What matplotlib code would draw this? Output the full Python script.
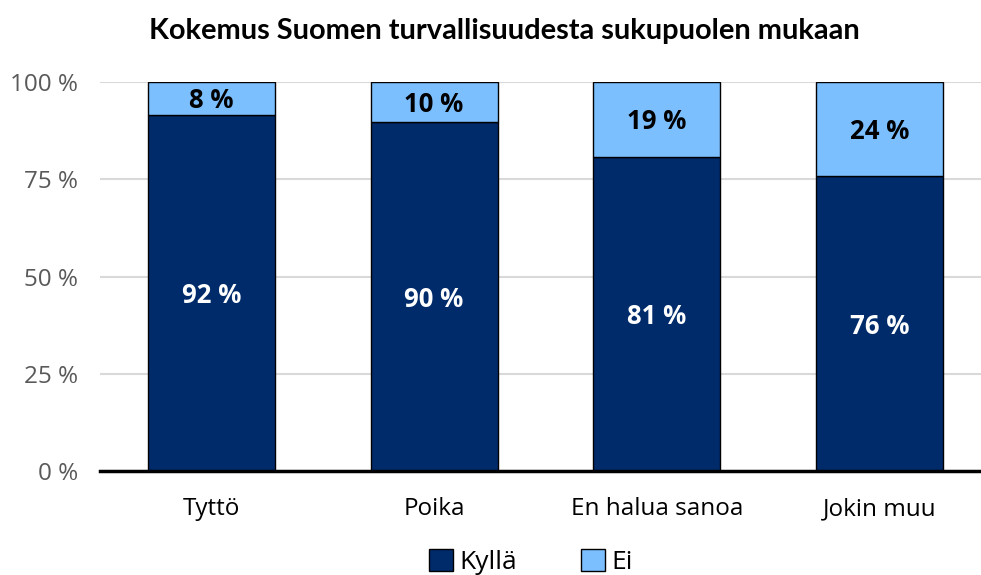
import matplotlib
matplotlib.use("Agg")
import matplotlib.pyplot as plt
from matplotlib.patches import Patch

categories = ["Tyttö", "Poika", "En halua sanoa", "Jokin muu"]
kylla = [91.6, 89.7, 80.8, 75.8]
ei = [8.4, 10.3, 19.2, 24.2]
yticks = [0, 25, 50, 75, 100]
ytick_labels = ["0 %", "25 %", "50 %", "75 %", "100 %"]

dark = "#002B6B"
light = "#7CBFFF"
font = "Open Sans"

fig = plt.figure(figsize=(9.81, 5.75), dpi=100)
ax = fig.add_axes([100/981, 1 - 471/575, 1 - 100/981, (471 - 82)/575])

x = list(range(len(categories)))
w = 0.57
ax.bar(x, kylla, w, color=dark, edgecolor="black", linewidth=1.0, zorder=3, label="Kyllä")
ax.bar(x, ei, w, bottom=kylla, color=light, edgecolor="black", linewidth=1.0, zorder=3, label="Ei")

for i in x:
    ax.annotate(f"{kylla[i]:.0f} %", (i, kylla[i] / 2), xytext=(0, -2.2), textcoords="offset points",
                ha="center", va="center", color="white", fontsize=18.5, fontweight="bold",
                family=font, zorder=4)
    ax.annotate(f"{ei[i]:.0f} %", (i, kylla[i] + ei[i] / 2), xytext=(0, -1.5), textcoords="offset points",
                ha="center", va="center", color="black", fontsize=18.5, fontweight="bold",
                family=font, zorder=4)

ax.set_xlim(-0.5, -0.5 + 881 / 222.7)
ax.set_ylim(0, 100)
ax.set_yticks(yticks)
ax.set_yticklabels(ytick_labels, family=font, fontsize=17.5, color="#595959")
ax.set_xticks(x)
ax.set_xticklabels(categories, family=font, fontsize=17.5, color="black")
ax.tick_params(axis="y", length=0, pad=16)
ax.tick_params(axis="x", length=0, pad=19)
ax.grid(axis="y", color="#D9D9D9", linewidth=1.5, zorder=0)
for s in ["top", "right", "left"]:
    ax.spines[s].set_visible(False)
ax.spines["bottom"].set_linewidth(2.5)
ax.spines["bottom"].set_color("black")
ax.spines["bottom"].set_zorder(5)

title = fig.text(504/981, 1 - 31/575, "Kokemus Suomen turvallisuudesta sukupuolen mukaan",
                 ha="center", va="center", fontsize=20, fontweight="bold", family="Lato")
fig.canvas.draw()
tw = title.get_window_extent().width
title.set_fontsize(20 * 712 / tw)

handles = [Patch(facecolor=dark, edgecolor="black", label="Kyllä"),
           Patch(facecolor=light, edgecolor="black", label="Ei")]
fig.legend(handles=handles, loc="center", bbox_to_anchor=(531/981, 1 - 562/575),
           ncol=2, frameon=False, prop={"family": font, "size": 19},
           handlelength=0.9, handleheight=0.9, handletextpad=0.25, columnspacing=2.4,
           borderpad=0)

fig.savefig("out.png", dpi=100)
